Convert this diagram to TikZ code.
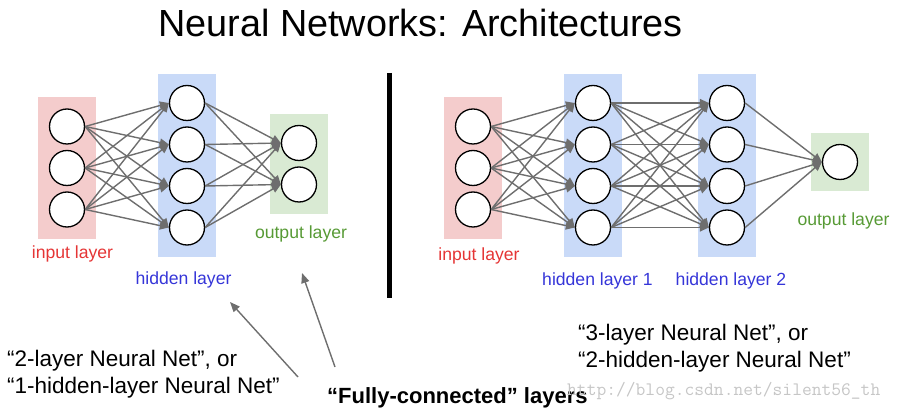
\documentclass[tikz,border=0pt]{standalone}
\usepackage{fontspec}
\setmainfont{Liberation Sans}
\usepackage{xcolor}
\usetikzlibrary{arrows.meta,positioning,fit,backgrounds}

\definecolor{inred}{HTML}{F4CCCC}
\definecolor{hidblue}{HTML}{C9DAF8}
\definecolor{outgreen}{HTML}{D9EAD3}
\definecolor{lblred}{HTML}{E53535}
\definecolor{lblblue}{HTML}{3535D8}
\definecolor{lblgreen}{HTML}{579A35}
\definecolor{edgegray}{HTML}{6E6E6E}

\begin{document}
\begin{tikzpicture}[
    x=1pt, y=-1pt,
    node distance=5.2pt,
    neuron/.style={circle, draw, line width=1.3pt, fill=white, minimum size=35pt, inner sep=0pt},
    inlayer/.style={rectangle, fill=inred, inner sep=11pt},
    hidlayer/.style={rectangle, fill=hidblue, inner sep=11pt},
    outlayer/.style={rectangle, fill=outgreen, inner sep=11pt},
    conn/.style={-{Triangle[length=9pt,width=8pt]}, line width=1.4pt, draw=edgegray},
    pointer/.style={-{Triangle[length=10pt,width=8pt]}, line width=1.4pt, draw=edgegray},
    lbl/.style={font=\fontsize{17.6}{20}\selectfont, inner sep=0pt},
    note/.style={font=\fontsize{22.5}{27.5}\selectfont, align=left, inner sep=0pt}
]
\useasboundingbox (0,0) rectangle (899,411);

% Title
\node[font=\fontsize{37.8}{44}\selectfont, anchor=base, inner sep=0pt] (title) at (420.5,37) {Neural Networks: Architectures};

% Left net: input layer
\node[neuron] (in1) at (67,126.5) {};
\node[neuron, below=of in1] (in2) {};
\node[neuron, below=of in2] (in3) {};

% Left net: hidden layer
\node[neuron] (hid1) at (187,103) {};
\node[neuron, below=of hid1] (hid2) {};
\node[neuron, below=of hid2] (hid3) {};
\node[neuron, below=of hid3] (hid4) {};

% Left net: output layer
\node[neuron] (out1) at (299,143) {};
\node[neuron, below=of out1] (out2) {};

% Right net: input layer
\node[neuron] (rin1) at (473,126.5) {};
\node[neuron, below=of rin1] (rin2) {};
\node[neuron, below=of rin2] (rin3) {};

% Right net: hidden layer 1
\node[neuron] (ha1) at (593,103) {};
\node[neuron, below=of ha1] (ha2) {};
\node[neuron, below=of ha2] (ha3) {};
\node[neuron, below=of ha3] (ha4) {};

% Right net: hidden layer 2
\node[neuron] (hb1) at (727,103) {};
\node[neuron, below=of hb1] (hb2) {};
\node[neuron, below=of hb2] (hb3) {};
\node[neuron, below=of hb3] (hb4) {};

% Right net: output layer
\node[neuron] (rout) at (840,162) {};

% Layer boxes
\begin{scope}[on background layer]
\node[inlayer, fit=(in1)(in3)] (inbox) {};
\node[hidlayer, fit=(hid1)(hid4)] (hidbox) {};
\node[outlayer, fit=(out1)(out2)] (outbox) {};
\node[inlayer, fit=(rin1)(rin3)] (rinbox) {};
\node[hidlayer, fit=(ha1)(ha4)] (habox) {};
\node[hidlayer, fit=(hb1)(hb4)] (hbbox) {};
\node[outlayer, fit=(rout)] (routbox) {};
\end{scope}

% Layer labels
\node[lbl, text=lblred, below=7pt of inbox, xshift=5.5pt] (inlbl) {input layer};
\node[lbl, text=lblblue, below=15pt of hidbox, xshift=-3.5pt] (hidlbl) {hidden layer};
\node[lbl, text=lblgreen, below=11.5pt of outbox, xshift=2pt] (outlbl) {output layer};
\node[lbl, text=lblred, below=9pt of rinbox, xshift=6pt] (rinlbl) {input layer};
\node[lbl, text=lblblue, below=16pt of habox, xshift=4.5pt] (halbl) {hidden layer 1};
\node[lbl, text=lblblue, below=16pt of hbbox, xshift=4pt] (hblbl) {hidden layer 2};
\node[lbl, text=lblgreen, below=21pt of routbox, xshift=3.5pt] (routlbl) {output layer};

% Connections
\foreach \a in {1,2,3}
  \foreach \b in {1,...,4}
    \draw[conn] (in\a.east) -- (hid\b.west);
\foreach \a in {1,...,4}
  \foreach \b in {1,2}
    \draw[conn] (hid\a.east) -- (out\b.west);
\foreach \a in {1,2,3}
  \foreach \b in {1,...,4}
    \draw[conn] (rin\a.east) -- (ha\b.west);
\foreach \a in {1,...,4}
  \foreach \b in {1,...,4}
    \draw[conn] (ha\a.east) -- (hb\b.west);
\foreach \a in {1,...,4}
  \draw[conn] (hb\a.east) -- (rout.west);

% Separator
\draw[line width=5pt] (389,73) -- (389,298);

% Notes
\node[note, anchor=north west] (leftnote) at (7,349.6) {``2-layer Neural Net'', or\\``1-hidden-layer Neural Net''};
\node[note, anchor=north west] (rightnote) at (578,323.6) {``3-layer Neural Net'', or\\``2-hidden-layer Neural Net''};
\node[font=\fontsize{22}{26}\selectfont\bfseries, anchor=base west, inner sep=0pt] (fcnote) at (327,403) {``Fully-connected'' layers};
\node[font=\fontsize{19}{22}\selectfont\ttfamily, text=gray!45, anchor=base west, inner sep=0pt] (mark) at (567,395) {http://blog.csdn.net/silent56\_th};

% Pointers
\coordinate (tailA) at (298,377);
\coordinate (headA) at (230,302);
\coordinate (tailB) at (335,367);
\coordinate (headB) at (302,273);
\draw[pointer] (tailA) -- (headA);
\draw[pointer] (tailB) -- (headB);

\end{tikzpicture}
\end{document}
